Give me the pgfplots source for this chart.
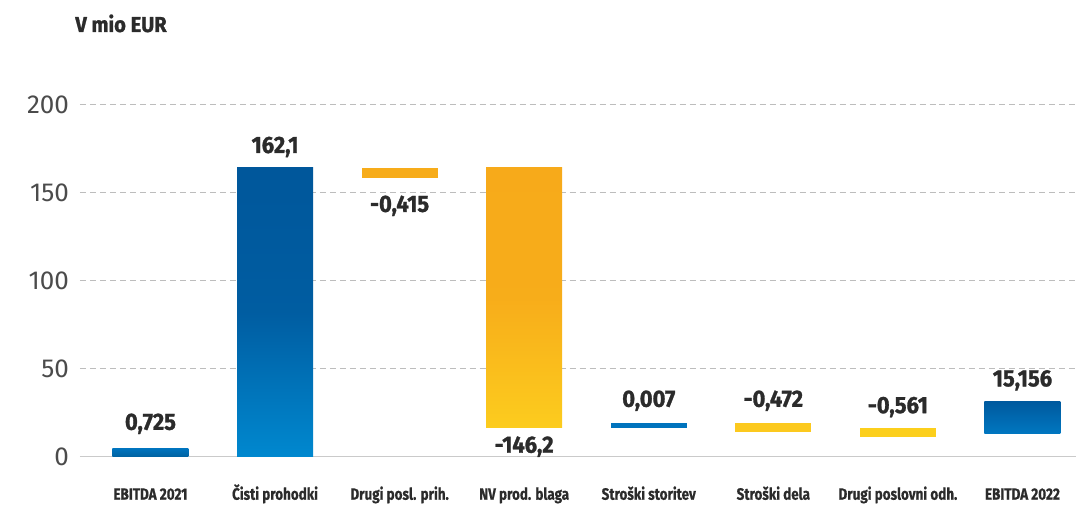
\documentclass[border=0pt]{standalone}
\usepackage{fontspec}
\setmainfont{Fira Sans}
\newfontfamily\catfont[FakeStretch=0.82, FakeBold=0.6]{Fira Sans}
\newfontfamily\valfont[FakeStretch=0.93, FakeBold=1.2]{Fira Sans}
\usepackage{pgfplots}
\pgfplotsset{compat=1.18}
\definecolor{bluedark}{HTML}{00579B}
\definecolor{bluelight}{HTML}{0088CF}
\definecolor{bluemid}{HTML}{0073BD}
\definecolor{orangetop}{HTML}{F7AA1A}
\definecolor{yellowbot}{HTML}{FCCC1E}
\definecolor{yellowbar}{HTML}{FCC91E}
\definecolor{txt}{HTML}{2B2B2B}
\definecolor{gridc}{HTML}{BDBDBD}
\begin{document}
\begin{tikzpicture}
\begin{axis}[
  scale only axis,
  width=498.5pt, height=176pt,
  xmin=-0.566, xmax=7.433,
  ymin=0, ymax=200,
  clip=false,
  axis line style={draw=none},
  tick style={draw=none},
  xtick={0,1,2,3,4,5,6,7},
  xticklabels={EBITDA 2021,Čisti prohodki,Drugi posl. prih.,NV prod. blaga,Stroški storitev,Stroški dela,Drugi poslovni odh.,EBITDA 2022},
  xticklabel style={font=\catfont\bfseries\fontsize{8.2pt}{9pt}\selectfont, text=txt, anchor=base, yshift=-21.5pt},
  ytick={50,100,150,200},
  extra y ticks={0},
  extra y tick style={grid style={solid, draw=gridc!80, line width=0.6pt}},
  yticklabel style={font=\fontsize{13pt}{14pt}\selectfont, text=txt!85, xshift=-2pt},
  /pgf/number format/assume math mode=true,
  ymajorgrids,
  grid style={dash pattern=on 3pt off 2pt, draw=gridc, line width=0.5pt},
]
% EBITDA 2021: 0 -> 4.5
\addplot[draw=none, top color=bluemid, bottom color=bluemid!85!black] coordinates {(-0.305,0) (0.305,0) (0.305,4.5) (-0.305,4.5)} -- cycle;
% Cisti prohodki: 0 -> 164.4
\addplot[draw=none, top color=bluedark, bottom color=bluelight, middle color=bluedark!88!bluelight] coordinates {(0.695,0) (1.305,0) (1.305,164.4) (0.695,164.4)} -- cycle;
% Drugi posl. prih.: 158.7 -> 164.4
\addplot[draw=none, fill=orangetop!95!yellowbot] coordinates {(1.695,158.7) (2.305,158.7) (2.305,164.4) (1.695,164.4)} -- cycle;
% NV prod. blaga: 16.6 -> 164.4
\addplot[draw=none, top color=orangetop, bottom color=yellowbot, middle color=orangetop!92!yellowbot] coordinates {(2.695,16.6) (3.305,16.6) (3.305,164.4) (2.695,164.4)} -- cycle;
% Stroski storitev: 16.1 -> 19.3
\addplot[draw=none, fill=bluemid] coordinates {(3.695,16.1) (4.305,16.1) (4.305,19.3) (3.695,19.3)} -- cycle;
% Stroski dela: 13.8 -> 19.3
\addplot[draw=none, fill=yellowbar] coordinates {(4.695,13.8) (5.305,13.8) (5.305,19.3) (4.695,19.3)} -- cycle;
% Drugi poslovni odh.: 11.0 -> 16.5
\addplot[draw=none, fill=yellowbot!95!yellow] coordinates {(5.695,11.0) (6.305,11.0) (6.305,16.5) (5.695,16.5)} -- cycle;
% EBITDA 2022: 13.5 -> 31.3
\addplot[draw=none, top color=bluedark!90!bluemid, bottom color=bluemid!85!bluelight] coordinates {(6.695,13.5) (7.305,13.5) (7.305,31.3) (6.695,31.3)} -- cycle;

\begin{scope}[every node/.style={font=\valfont\bfseries\fontsize{11.8pt}{12pt}\selectfont, text=txt, anchor=base, inner sep=0pt}]
\node at (axis cs:0,15.3) {0,725};
\node at (axis cs:1,172.7) {162,1};
\node at (axis cs:2,139.2) {-0,415};
\node at (axis cs:3,2.3) {-146,2};
\node at (axis cs:4,28.4) {0,007};
\node at (axis cs:5,28.4) {-0,472};
\node at (axis cs:6,24.8) {-0,561};
\node at (axis cs:7,40.0) {15,156};
\end{scope}
\node[anchor=base west, inner sep=0pt, font=\valfont\bfseries\fontsize{10.8pt}{11pt}\selectfont, text=txt] at (rel axis cs:0,1) [yshift=36.5pt, xshift=-2.5pt] {V mio EUR};
\end{axis}
\useasboundingbox (-40pt,-24pt) rectangle (498.5pt,228.5pt);
\end{tikzpicture}
\end{document}
